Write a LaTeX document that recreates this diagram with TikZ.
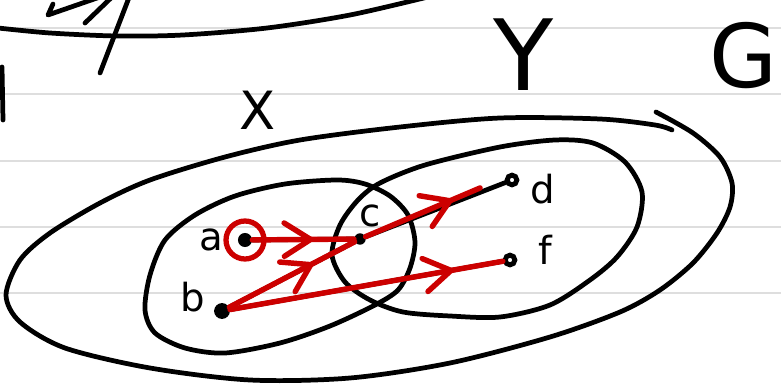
\documentclass[tikz,border=0pt]{standalone}
\usepackage{fontspec}
\setmainfont{DejaVu Sans}
\usepackage{xcolor}
\usetikzlibrary{arrows.meta,positioning,decorations.markings}
\definecolor{penred}{RGB}{204,0,0}
\definecolor{ruleline}{RGB}{222,222,222}

\begin{document}
\begin{tikzpicture}[
        x=0.02cm, y=-0.02cm,
        pen/.style={line width=2.7pt, line cap=round, line join=round},
        dot/.style={circle, fill=black, inner sep=0pt, minimum size=8pt},
        hollow/.style={circle, draw, fill=white, line width=2.8pt, inner sep=0pt, minimum size=5.5pt},
        vlabel/.style={inner sep=0pt, font=\fontsize{22}{22}\selectfont},
        setlabel/.style={inner sep=0pt},
        edge/.style={pen},
        ring/.style={draw=penred, line width=3pt},
        flow/.style={draw=penred, line width=3.1pt, line cap=round, postaction={decorate},
            decoration={markings, mark=at position #1 with {\arrow[penred]{Straight Barb[length=15pt,width=19pt,round]}}}}
    ]
        \fill[white] (0,0) rectangle (781,385);
        \useasboundingbox (0,0) rectangle (781,385);
        % ruled paper
        \foreach \yy in {28,94,161,227,293}
            \draw[ruleline, line width=1.1pt] (0,\yy) -- (781,\yy);
        % leftovers of the previous sketch
        \draw[pen] plot[smooth] coordinates {(-2,28) (50,33) (117,36) (183,35) (267,28) (350,15) (432,-4)};
        \draw[pen] (130,-5) -- (100,73);
        \draw[pen] (53,4) -- (48,15) -- (100,-3);
        \draw[pen] (85,23) -- (112,-3);
        \draw[pen] (2,67) -- (3,120);
        % sets
        \draw[pen] plot[smooth] coordinates {(656,112) (693,133) (720,157) (732,183) (730,207) (717,233)
            (693,263) (660,290) (620,312) (550,337) (450,363) (350,378) (250,380) (150,368) (65,348)
            (20,322) (6,295) (20,260) (50,233) (100,203) (150,180) (225,157) (300,140) (400,127)
            (500,118) (600,119) (655,125) (672,130)};
        \draw[pen] plot[smooth cycle] coordinates {(145,310) (150,275) (165,240) (195,215) (235,196)
            (285,184) (337,180) (365,184) (390,196) (408,215) (415,242) (410,268) (398,290) (375,305)
            (330,326) (280,343) (225,353) (185,348) (155,333)};
        \draw[pen] plot[smooth cycle] coordinates {(332,255) (340,225) (358,200) (380,183) (425,165)
            (500,147) (555,140) (593,143) (625,162) (642,192) (637,227) (617,257) (590,280) (550,305)
            (500,317) (450,316) (403,312) (370,300) (345,282)};
        \node[setlabel, font=\fontsize{30}{30}\selectfont] (xname) at (258,110) {X};
        \node[setlabel, font=\fontsize{56}{56}\selectfont] (yname) at (524,55) {Y};
        \node[setlabel, font=\fontsize{50}{50}\selectfont] (gname) at (744,56) {G};
        % vertices
        \node[dot] (a) at (245,240) {};
        \node[dot, minimum size=9pt] (b) at (222,311) {};
        \node[dot, minimum size=6.5pt] (c) at (360,239) {};
        \node[hollow] (d) at (512,180) {};
        \node[hollow] (f) at (510,260) {};
        \node[vlabel, left=8pt of a] (la) {a};
        \node[vlabel, left=5pt of b, yshift=8pt] (lb) {b};
        \node[vlabel, above right=4pt and -3pt of c] (lc) {c};
        \node[vlabel, right=6pt of d, yshift=-5pt] (ld) {d};
        \node[vlabel, right=12pt of f, yshift=6pt] (lf) {f};
        % edges
        \draw[edge] (a) -- (c);
        \draw[edge] (b) -- (c);
        \draw[edge] (c) -- (d);
        \draw[edge] (b) -- (f);
        % red pen
        \coordinate (dend) at (480,188);
        \draw[ring] (a) circle [radius=19];
        \draw[flow=0.6] (a) -- (c);
        \draw[flow=0.67] (b) -- (c);
        \draw[flow=0.76] (c) -- (dend);
        \draw[flow=0.82] (b) -- (f);
    \end{tikzpicture}
\end{document}
